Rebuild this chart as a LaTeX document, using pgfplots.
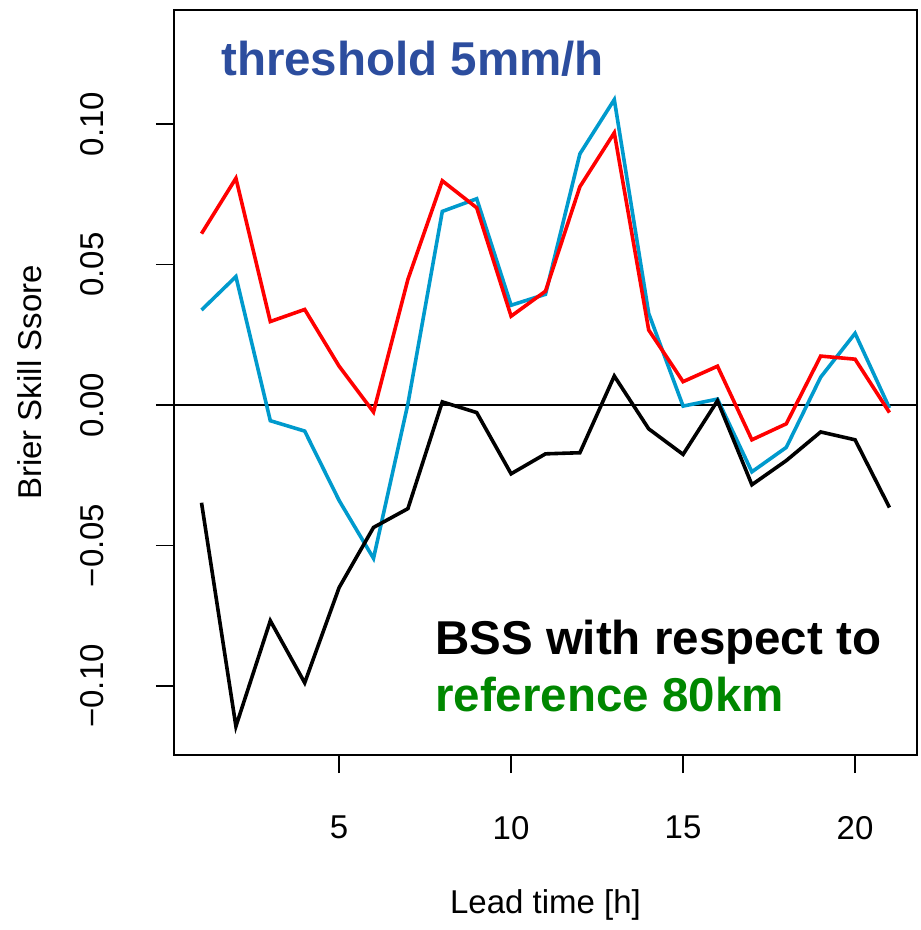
\documentclass[border=0pt]{standalone}
\usepackage{pgfplots}
\pgfplotsset{compat=1.18}
\usepackage{pgfplotstable}
\usepackage{fontspec}
\setmainfont{Liberation Sans}
\definecolor{rblue}{HTML}{009ACD}
\definecolor{tblue}{HTML}{2C4D9E}
\definecolor{tgreen}{HTML}{008700}
\pgfplotstableread{
x red blue black
1 0.0610 0.0338 -0.0348
2 0.0807 0.0457 -0.1144
3 0.0297 -0.0056 -0.0768
4 0.0340 -0.0093 -0.0989
5 0.0138 -0.0340 -0.0650
6 -0.0025 -0.0546 -0.0436
7 0.0447 0.0004 -0.0369
8 0.0798 0.0689 0.0011
9 0.0702 0.0734 -0.0027
10 0.0316 0.0355 -0.0245
11 0.0405 0.0394 -0.0174
12 0.0777 0.0894 -0.0170
13 0.0969 0.1087 0.0103
14 0.0267 0.0326 -0.0085
15 0.0083 -0.0004 -0.0176
16 0.0138 0.0021 0.0015
17 -0.0124 -0.0238 -0.0284
18 -0.0067 -0.0151 -0.0198
19 0.0174 0.0099 -0.0096
20 0.0163 0.0255 -0.0124
21 -0.0027 -0.0011 -0.0365
}\bss
\begin{document}
\begin{tikzpicture}[x=1pt,y=1pt]
\path[use as bounding box] (-174,-175) rectangle (747,755);
\begin{axis}[
  at={(0pt,0pt)}, anchor=south west,
  scale only axis, width=743pt, height=745pt,
  xmin=0.2, xmax=21.8, ymin=-0.1246, ymax=0.1406,
  axis line style={line width=1.8pt},
  every tick/.style={black, line width=1.8pt},
  tick align=outside, major tick length=18pt,
  xtick pos=bottom, ytick pos=left,
  xtick={5,10,15,20},
  xticklabels={5,10,15,20},
  ytick={-0.1,-0.05,0,0.05,0.1},
  yticklabels={−0.10,−0.05,0.00,0.05,0.10},
  xticklabel style={font=\fontsize{33}{40}\selectfont, anchor=north, inner sep=0pt},
  yticklabel style={font=\fontsize{33}{40}\selectfont, rotate=90, anchor=base, inner sep=0pt},
  xticklabel shift=43pt,
  yticklabel shift=52pt,
  clip=false,
]
\addplot[black, line width=1.5pt] coordinates {(0.2,0) (21.8,0)};
\addplot[rblue, line width=3.6pt] table[x=x, y=blue] {\bss};
\addplot[red, line width=3.6pt] table[x=x, y=red] {\bss};
\addplot[black, line width=3.6pt] table[x=x, y=black] {\bss};
\end{axis}
\node[anchor=base west, inner sep=0pt, text=tblue, font=\fontsize{47.5}{55}\selectfont\bfseries] at (47,679) {threshold 5mm/h};
\node[anchor=base west, inner sep=0pt, text=black, font=\fontsize{47.5}{55}\selectfont\bfseries] at (261,100) {BSS with respect to};
\node[anchor=base west, inner sep=0pt, text=tgreen, font=\fontsize{47.5}{55}\selectfont\bfseries] at (261,43) {reference 80km};
\node[anchor=base, inner sep=0pt, font=\fontsize{33}{40}\selectfont] at (371.5,-158) {Lead time [h]};
\node[anchor=base, inner sep=0pt, rotate=90, font=\fontsize{33}{40}\selectfont] at (-132,372.5) {Brier Skill Ssore};
\end{tikzpicture}
\end{document}
